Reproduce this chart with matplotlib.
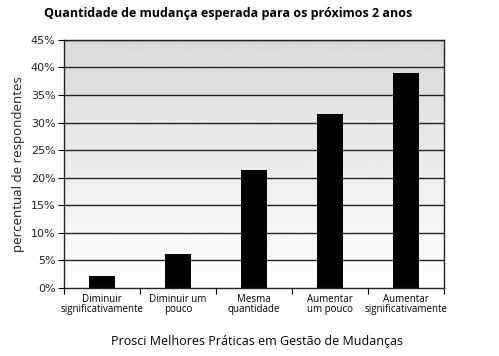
import numpy as np
import matplotlib.pyplot as plt

categories = ["Diminuir\nsignificativamente", "Diminuir um\npouco", "Mesma\nquantidade",
              "Aumentar\num pouco", "Aumentar\nsignificativamente"]
values = [2.2, 6.2, 21.4, 31.6, 39.0]
yticks = [0, 5, 10, 15, 20, 25, 30, 35, 40, 45]

fig = plt.figure(figsize=(4.99, 3.56), dpi=100)
ax = fig.add_axes([0.128, 0.191, 0.762, 0.697])

x = np.arange(len(categories))
ax.set_xlim(-0.5, len(categories) - 0.5)

# gradient background, darker at the top
grad = np.linspace(0.85, 1.0, 256).reshape(-1, 1)
ax.imshow(grad, extent=[-0.5, len(categories) - 0.5, 0, 45], cmap="gray", origin="upper",
          vmin=0, vmax=1, aspect="auto", zorder=0)
ax.set_ylim(0, 45)

for t in yticks[1:]:
    ax.axhline(t, color="#222222", lw=1.0, zorder=1)

ax.bar(x, values, width=0.34, color="black", zorder=2)

ax.set_yticks(yticks)
ax.set_yticklabels([f"{t}%" for t in yticks], fontsize=8, family="DejaVu Sans", color="#222222")
ax.set_xticks(np.arange(-0.5, len(categories)), minor=False)
ax.set_xticklabels([])
ax.set_xticks(x, minor=True)
ax.set_xticklabels(categories, minor=True, fontsize=7, family="Open Sans", linespacing=0.95)
ax.tick_params(axis="x", which="minor", length=0, pad=4)
ax.tick_params(axis="x", which="major", length=4, direction="out")
ax.tick_params(axis="y", length=4, direction="out", pad=2)

for s in ax.spines.values():
    s.set_color("#222222")
    s.set_linewidth(1.0)

ax.set_ylabel("percentual de respondentes", family="Open Sans", fontsize=9.5, labelpad=4,
              color="#222222")

fig.text(228 / 499, 1 - 13 / 356, "Quantidade de mudança esperada para os próximos 2 anos",
         ha="center", va="center", family="Open Sans", fontweight="bold", fontsize=9)
fig.text(257 / 499, 1 - 341 / 356, "Prosci Melhores Práticas em Gestão de Mudanças",
         ha="center", va="center", family="Open Sans", fontsize=9)

fig.savefig("out.png", dpi=100)
